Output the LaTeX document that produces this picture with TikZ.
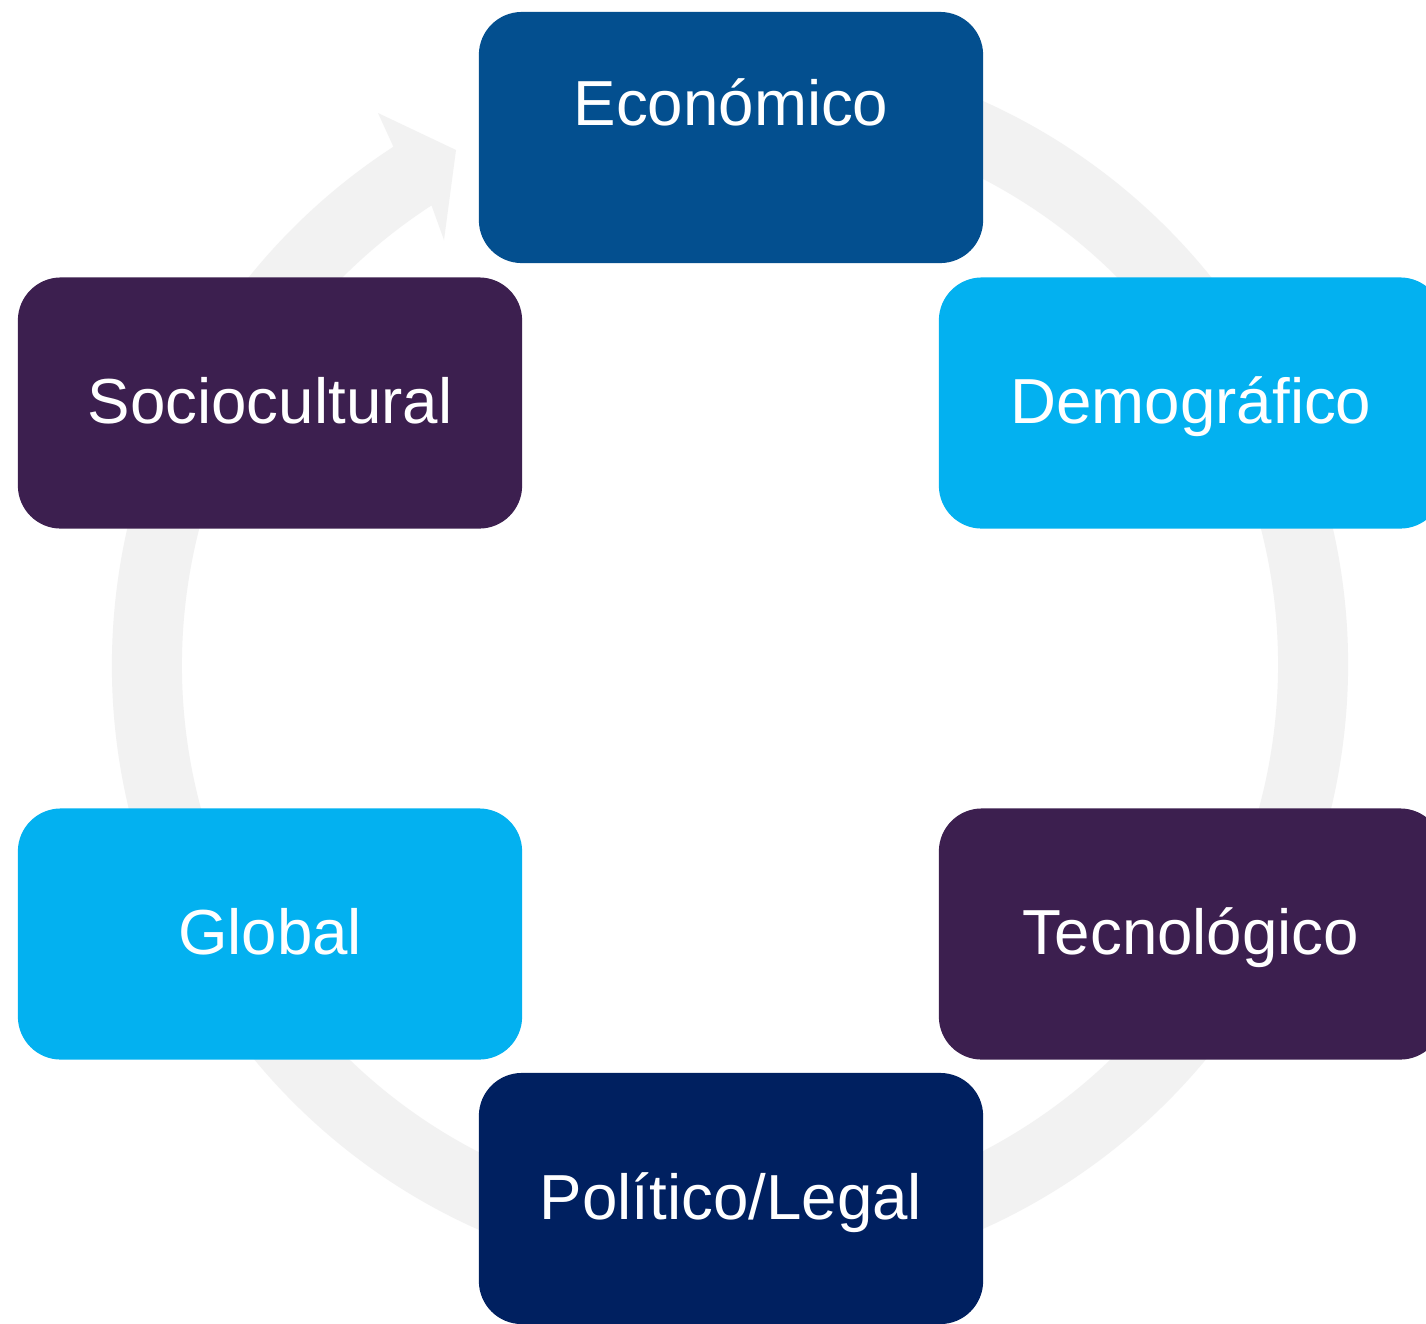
\documentclass[tikz,border=0pt]{standalone}
\usepackage{fontspec}
\setmainfont{Liberation Sans}
\usetikzlibrary{calc}
\definecolor{econ}{HTML}{034F8F}
\definecolor{lblue}{HTML}{03B1F0}
\definecolor{purp}{HTML}{3C1F4F}
\definecolor{navy}{HTML}{002060}
\definecolor{ringgray}{HTML}{F2F2F2}
\begin{document}
\begin{tikzpicture}[x=0.01cm,y=-0.01cm,
  box/.style={rounded corners=0.43cm, minimum width=5.04cm, minimum height=2.51cm, inner sep=0pt, draw=none},
  lbl/.style={anchor=base, inner sep=0pt, text=white, font=\fontsize{18.1pt}{22pt}\selectfont}]
\useasboundingbox (0,0) rectangle (1426,1323);
\clip (0,0) rectangle (1426,1323);
\fill[white] (0,0) rectangle (1426,1323);
\coordinate (C) at (730,665);
% circular arrow
\fill[ringgray] ($(C)+(-80:618)$) arc[start angle=-80, end angle=237, radius=618]
  -- (378,113) -- (456,150) -- (444,240)
  -- ($(C)+(237:548)$) arc[start angle=237, end angle=-80, radius=548] -- cycle;
% boxes
\node[box, fill=econ] (eco) at (731,137.5) {};
\node[lbl] (ecot) at (731,125) {Económico};
\node[box, fill=lblue] (dem) at (1191,403) {};
\node[lbl] (demt) at (1191,423) {Demográfico};
\node[box, fill=purp] (soc) at (270,403) {};
\node[lbl] (soct) at (270,423) {Sociocultural};
\node[box, fill=lblue] (glo) at (270,934) {};
\node[lbl] (glot) at (270,954) {Global};
\node[box, fill=purp] (tec) at (1191,934) {};
\node[lbl] (tect) at (1191,954) {Tecnológico};
\node[box, fill=navy] (pol) at (731,1198.5) {};
\node[lbl] (polt) at (731,1219) {Político/Legal};
\end{tikzpicture}
\end{document}
